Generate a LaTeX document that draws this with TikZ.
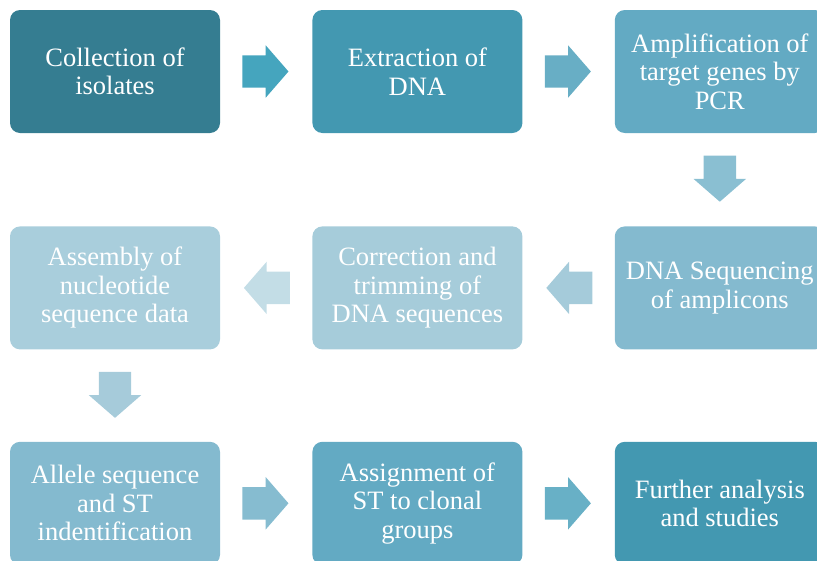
\documentclass[tikz,border=0pt]{standalone}
\usepackage{fontspec}
\setmainfont{Liberation Serif}
\usepackage{tikz}
\usetikzlibrary{positioning,shapes.arrows}
\definecolor{stepA}{HTML}{357D91}
\definecolor{stepB}{HTML}{4398B1}
\definecolor{stepC}{HTML}{63AAC3}
\definecolor{stepD}{HTML}{84BACF}
\definecolor{stepE}{HTML}{A6CCDA}
\definecolor{stepF}{HTML}{A9CEDC}
\definecolor{arrA}{HTML}{45A5BE}
\definecolor{arrB}{HTML}{68AEC5}
\definecolor{arrC}{HTML}{8ABFD2}
\definecolor{arrD}{HTML}{A5CBDA}
\definecolor{arrE}{HTML}{C3DDE6}
\definecolor{arrF}{HTML}{A6CBDA}
\definecolor{arrG}{HTML}{86BCD0}
\definecolor{arrH}{HTML}{68B0C6}
\tikzset{%
	stepbox/.style = {rectangle, rounded corners=10pt, minimum width=210pt, minimum height=123pt, inner sep=0pt, align=center, text=white, font=\fontsize{26.5}{28.5}\selectfont},
	blockarrow/.style = {single arrow, draw=none, inner xsep=0pt, inner ysep=16pt, minimum height=46pt, single arrow head extend=10pt, single arrow tip angle=98, pos=0.24, anchor=tail},
}
\begin{document}
\begin{tikzpicture}[x=1pt,y=-1pt,node distance=92pt and 92pt]
	\useasboundingbox (0,0) rectangle (817,560);
	\node[stepbox, fill=stepA] (collect) at (115,71.5) {Collection of\\isolates};
	\node[stepbox, fill=stepB, right=of collect] (extract) {Extraction of\\DNA};
	\node[stepbox, fill=stepC, right=of extract] (amplify) {Amplification of\\target genes by\\PCR};
	\node[stepbox, fill=stepD, below=93pt of amplify] (sequence) {DNA Sequencing\\of amplicons};
	\node[stepbox, fill=stepE, left=of sequence] (trim) {Correction and\\trimming of\\DNA sequences};
	\node[stepbox, fill=stepF, left=of trim] (assembly) {Assembly of\\nucleotide\\sequence data};
	\node[stepbox, fill=stepD, below=of assembly] (allele) {Allele sequence\\and ST\\indentification};
	\node[stepbox, fill=stepC, right=of allele] (assign) {Assignment of\\ST to clonal\\groups};
	\node[stepbox, fill=stepB, right=of assign] (further) {Further analysis\\and studies};
	\path (collect.east) -- (extract.west) node[blockarrow, fill=arrA] (a1) {};
	\path (extract.east) -- (amplify.west) node[blockarrow, fill=arrB] (a2) {};
	\path (amplify.south) -- (sequence.north) node[blockarrow, fill=arrC, rotate=-90] (a3) {};
	\path (sequence.west) -- (trim.east) node[blockarrow, fill=arrD, rotate=180] (a4) {};
	\path (trim.west) -- (assembly.east) node[blockarrow, fill=arrE, rotate=180] (a5) {};
	\path (assembly.south) -- (allele.north) node[blockarrow, fill=arrF, rotate=-90] (a6) {};
	\path (allele.east) -- (assign.west) node[blockarrow, fill=arrG] (a7) {};
	\path (assign.east) -- (further.west) node[blockarrow, fill=arrH] (a8) {};
\end{tikzpicture}
\end{document}
